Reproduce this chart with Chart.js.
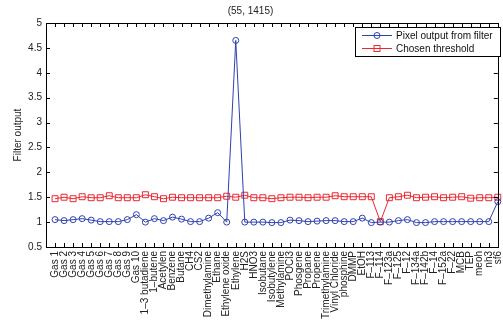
<!DOCTYPE html>
<html>
<head>
<meta charset="utf-8">
<script src="https://cdn.jsdelivr.net/npm/chart.js@4.4.0/dist/chart.umd.min.js"></script>
<style>
  html, body { margin: 0; padding: 0; background: #fff; }
</style>
</head>
<body>
<canvas id="filterChart" width="503" height="322"></canvas>
<script>
// gases (x categories)
const gasNames = [
    'Gas 1', 'Gas 2', 'Gas 3', 'Gas 4', 'Gas 5', 'Gas 6', 'Gas 7', 'Gas 8', 'Gas 9', 'Gas 10',
    '1\u20133 butadiene', '1\u2013butene', 'Acetylen', 'Benzene', 'Butane', 'CH4', 'CS2',
    'Dimethylamine', 'Ethane', 'Ethylene oxide', 'Ethylene', 'H2S', 'HNO3', 'Isobutane',
    'Isobutylene', 'Methylamine', 'POCl3', 'Phosgene', 'Propane', 'Propene', 'Trimethylamine',
    'Vinyl Chloride', 'phosphine', 'DMMP', 'EtOH', 'F\u2013113', 'F\u2013114', 'F\u2013123a',
    'F\u2013125', 'F\u201312', 'F\u2013134a', 'F\u2013142b', 'F\u201314', 'F\u2013152a', 'F\u201322',
    'MCB', 'TEP', 'meoh', 'nh3', 'sf6'
];

// pixel output from filter
const filterOutput = [
    1.05, 1.03, 1.05, 1.07, 1.04, 1.01, 1.01, 1.01, 1.05, 1.15,
    1.00, 1.07, 1.03, 1.10, 1.06, 1.01, 1.01, 1.08, 1.19, 1.00,
    4.65, 1.00, 1.00, 1.00, 0.99, 0.99, 1.04, 1.03, 1.01, 1.02,
    1.03, 1.03, 1.01, 1.01, 1.08, 0.99, 1.00, 1.00, 1.03, 1.05,
    0.99, 0.99, 1.01, 1.01, 1.01, 1.01, 1.01, 1.01, 1.01, 1.41
];

// chosen threshold
const threshold = [
    1.47, 1.50, 1.47, 1.51, 1.49, 1.49, 1.53, 1.49, 1.49, 1.49,
    1.55, 1.51, 1.47, 1.50, 1.49, 1.49, 1.49, 1.49, 1.49, 1.52,
    1.50, 1.54, 1.49, 1.49, 1.47, 1.49, 1.50, 1.50, 1.49, 1.50,
    1.50, 1.53, 1.51, 1.51, 1.51, 1.51, 1.01, 1.49, 1.51, 1.54,
    1.49, 1.50, 1.51, 1.49, 1.50, 1.51, 1.48, 1.49, 1.49, 1.50
];

const yTicks = [0.5, 1, 1.5, 2, 2.5, 3, 3.5, 4, 4.5, 5];

const FONT = "'Liberation Sans', Arial, sans-serif";
const BLUE = 'rgb(45, 65, 175)';
const RED = 'rgb(235, 40, 50)';

// box + inward ticks on all four sides, plus legend inside the plot
const boxPlugin = {
    id: 'matlabBox',
    afterDraw(chart) {
        const ctx = chart.ctx;
        const a = chart.chartArea;
        const xs = chart.scales.x;
        const ys = chart.scales.y;
        const tl = 4;
        ctx.save();
        ctx.strokeStyle = '#000';
        ctx.lineWidth = 1;
        ctx.beginPath();
        for (let i = 0; i <= gasNames.length; i++) {
            const px = Math.round(xs.getPixelForValue(i)) + 0.5;
            ctx.moveTo(px, a.bottom);
            ctx.lineTo(px, a.bottom - tl);
            ctx.moveTo(px, a.top);
            ctx.lineTo(px, a.top + tl);
        }
        yTicks.forEach(v => {
            const py = Math.round(ys.getPixelForValue(v)) + 0.5;
            ctx.moveTo(a.left, py);
            ctx.lineTo(a.left + tl, py);
            ctx.moveTo(a.right, py);
            ctx.lineTo(a.right - tl, py);
        });
        ctx.stroke();
        ctx.strokeRect(Math.round(a.left) + 0.5, Math.round(a.top) + 0.5,
            Math.round(a.right - a.left), Math.round(a.bottom - a.top));

        // legend
        const lx = 355, ly = 27, lw = 145, lh = 29;
        ctx.fillStyle = '#fff';
        ctx.fillRect(lx, ly, lw, lh);
        ctx.strokeRect(lx + 0.5, ly + 0.5, lw, lh);
        ctx.font = '10px ' + FONT;
        ctx.textBaseline = 'middle';
        chart.data.datasets.forEach((ds, i) => {
            const y = ly + 8.5 + i * 13;
            ctx.strokeStyle = ds.borderColor;
            ctx.beginPath();
            ctx.moveTo(lx + 7, y);
            ctx.lineTo(lx + 37, y);
            ctx.stroke();
            if (ds.pointStyle === 'rect') {
                ctx.strokeRect(lx + 19, y - 3, 6, 6);
            } else {
                ctx.beginPath();
                ctx.arc(lx + 22, y, 3, 0, Math.PI * 2);
                ctx.stroke();
            }
            ctx.fillStyle = '#111';
            ctx.fillText(ds.label, lx + 41, y + 0.5);
        });
        ctx.restore();
    }
};

function initializeChart() {
    const ctx = document.getElementById('filterChart').getContext('2d');
    new Chart(ctx, {
        type: 'line',
        data: {
            datasets: [
                {
                    label: 'Pixel output from filter',
                    data: filterOutput.map((v, i) => ({ x: i + 1, y: v })),
                    borderColor: BLUE,
                    borderWidth: 1,
                    pointStyle: 'circle',
                    pointRadius: 3,
                    pointBorderWidth: 1,
                    pointBorderColor: BLUE,
                    pointBackgroundColor: 'rgba(0,0,0,0)',
                    fill: false,
                    tension: 0,
                    clip: false
                },
                {
                    label: 'Chosen threshold',
                    data: threshold.map((v, i) => ({ x: i + 1, y: v })),
                    borderColor: RED,
                    borderWidth: 1,
                    pointStyle: 'rect',
                    pointRadius: 4.2,
                    pointBorderWidth: 1,
                    pointBorderColor: RED,
                    pointBackgroundColor: 'rgba(0,0,0,0)',
                    fill: false,
                    tension: 0,
                    clip: false
                }
            ]
        },
        options: {
            responsive: false,
            animation: false,
            devicePixelRatio: 1,
            layout: { padding: { left: 0, right: 2, top: 0, bottom: 0 } },
            plugins: {
                legend: { display: false },
                tooltip: { enabled: false },
                title: {
                    display: true,
                    text: '(55, 1415)',
                    color: '#222',
                    font: { family: FONT, size: 10, weight: 'normal' },
                    padding: { top: 5, bottom: 6 }
                }
            },
            scales: {
                x: {
                    type: 'linear',
                    min: 0,
                    max: gasNames.length,
                    grid: { display: false, drawTicks: false },
                    border: { display: false },
                    ticks: {
                        stepSize: 1,
                        autoSkip: false,
                        minRotation: 90,
                        maxRotation: 90,
                        padding: 4,
                        color: '#222',
                        font: { family: FONT, size: 10 },
                        callback: v => gasNames[v - 1] || ''
                    },
                    afterFit(scale) {
                        scale.height = 75;
                        scale.paddingLeft = 0;
                        scale.paddingRight = 0;
                    }
                },
                y: {
                    min: 0.5,
                    max: 5,
                    grid: { display: false, drawTicks: false },
                    border: { display: false },
                    ticks: {
                        stepSize: 0.5,
                        padding: 4,
                        color: '#222',
                        font: { family: FONT, size: 10 },
                        callback: v => String(v)
                    },
                    title: {
                        display: true,
                        text: 'Filter output',
                        color: '#222',
                        font: { family: FONT, size: 10 },
                        padding: { top: 12, bottom: 0 }
                    },
                    afterFit(scale) {
                        scale.width = 46;
                    }
                }
            }
        },
        plugins: [boxPlugin]
    });
}

window.onload = initializeChart;
</script>
</body>
</html>
